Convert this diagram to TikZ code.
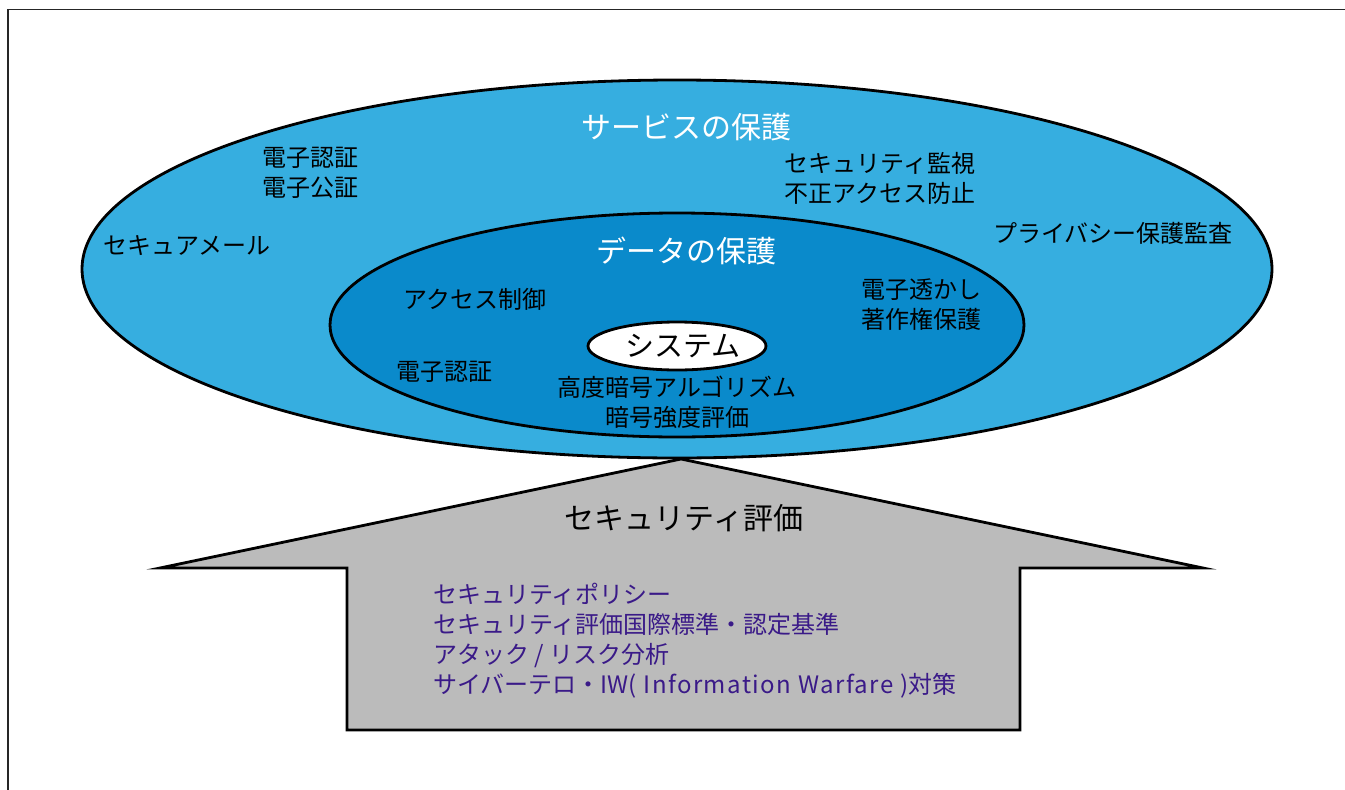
\documentclass[tikz,border=0pt]{standalone}
\usepackage{fontspec}
\setmainfont{Noto Sans CJK JP}
\newfontfamily\spaced[LetterSpace=6]{Noto Sans CJK JP}
\usetikzlibrary{shapes.geometric}
\definecolor{outerblue}{HTML}{36AEE0}
\definecolor{innerblue}{HTML}{0A8ACB}
\definecolor{arrowgray}{HTML}{BBBBBB}
\definecolor{listpurple}{HTML}{3A1A88}
\tikzset{
  ring/.style={ellipse, draw=black, line width=2.8pt, inner sep=0pt},
  title/.style={font=\fontsize{30}{34}\selectfont, text=white, inner sep=0pt},
  label/.style={font=\fontsize{24}{30}\selectfont, text=black, align=center, inner sep=0pt},
  listtext/.style={font=\fontsize{24}{30}\selectfont, text=listpurple, align=left, inner sep=0pt, anchor=north west},
}
\begin{document}
\begin{tikzpicture}[x=1pt, y=-1pt]
\useasboundingbox (0,0) rectangle (1345,790);
% frame lines (top and left)
\draw[line width=1.2pt, black!85] (8,790) -- (8,9.5) -- (1345,9.5);
% arrow
\draw[line width=2.8pt, fill=arrowgray, line join=miter]
  (681,459) -- (1203,568) -- (1020,568) -- (1020,730) -- (347,730) -- (347,568) -- (160,568) -- cycle;
% ellipses
\node[ring, fill=outerblue, minimum width=1190pt, minimum height=378pt] (outer) at (677,269) {};
\node[ring, fill=innerblue, minimum width=694pt, minimum height=224pt] (inner) at (677,325) {};
\node[ring, fill=white, minimum width=178pt, minimum height=48pt] (sys) at (677,346) {};
% texts
\node[title] (t1) at (686,127) {サービスの保護};
\node[title] (t2) at (686,251) {データの保護};
\node[font=\fontsize{29}{32}\selectfont, inner sep=0pt] (t3) at (683,346) {システム};
\node[label] (a1) at (310,173) {電子認証\\電子公証};
\node[label] (a2) at (880,178) {セキュリティ監視\\不正アクセス防止};
\node[label] (a3) at (1113,233) {プライバシー保護監査};
\node[label] (a4) at (187,246) {セキュアメール};
\node[label] (b1) at (475,299) {アクセス制御};
\node[label] (b2) at (921,305) {電子透かし\\著作権保護};
\node[label] (b3) at (444,372) {電子認証};
\node[label] (b4) at (677,402) {高度暗号アルゴリズム\\暗号強度評価};
\node[font=\fontsize{30}{32}\selectfont, inner sep=0pt] (c1) at (684,518) {セキュリティ評価};
\node[listtext] (c2) at (433,583) {セキュリティポリシー\\セキュリティ評価国際標準・認定基準\\アタック / リスク分析\\サイバーテロ・IW{\spaced ( Information Warfare )}対策};
\end{tikzpicture}
\end{document}
